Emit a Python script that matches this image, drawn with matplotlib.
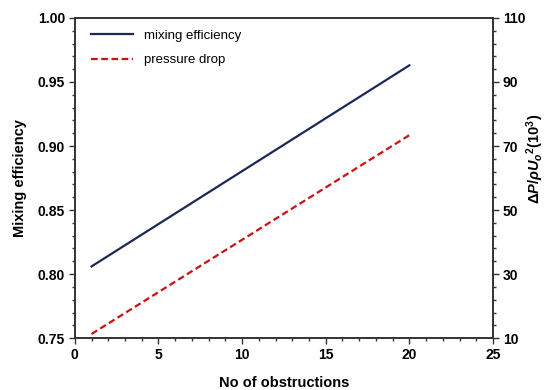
import matplotlib
matplotlib.use('Agg')
import matplotlib.pyplot as plt
from matplotlib.ticker import MultipleLocator

plt.rcParams['font.family'] = ['Liberation Sans', 'DejaVu Sans']
plt.rcParams['mathtext.fontset'] = 'custom'
plt.rcParams['mathtext.it'] = 'Liberation Sans:italic:bold'
plt.rcParams['mathtext.rm'] = 'Liberation Sans:bold'

# data
obstructions = [1, 20]
mixing_eff = [0.806, 0.963]
pressure_drop = [11.3, 73.4]

fig = plt.figure(figsize=(5.46, 3.90), dpi=100)
ax = fig.add_axes([0.137, 0.133, 0.766, 0.821])
ax2 = ax.twinx()

l1, = ax.plot(obstructions, mixing_eff, color='#1c2857', lw=1.6, label='mixing efficiency')
l2, = ax2.plot(obstructions, pressure_drop, color='#cc1111', lw=1.6, ls=(0, (3, 1.6)), label='pressure drop')

ax.set_xlim(0, 25)
ax.set_ylim(0.75, 1.00)
ax2.set_ylim(10, 110)

ax.xaxis.set_major_locator(MultipleLocator(5))
ax.xaxis.set_minor_locator(MultipleLocator(1))
ax.yaxis.set_major_locator(MultipleLocator(0.05))
ax.yaxis.set_minor_locator(MultipleLocator(0.01))
ax2.yaxis.set_major_locator(MultipleLocator(20, offset=10))
ax2.yaxis.set_minor_locator(MultipleLocator(4, offset=2))
ax.yaxis.set_major_formatter(plt.FormatStrFormatter('%.2f'))

for a in (ax, ax2):
    for s in a.spines.values():
        s.set_color('#333333')
        s.set_linewidth(1.2)
    a.tick_params(which='major', length=4, width=1, color='#333333', labelsize=10, pad=3)
    a.tick_params(which='minor', length=2, width=1, color='#333333')
    for lab in a.get_xticklabels() + a.get_yticklabels():
        lab.set_fontweight('bold')

ax.set_xlabel('No of obstructions', fontsize=10.5, fontweight='bold', labelpad=10)
ax.set_ylabel('Mixing efficiency', fontsize=10.5, fontweight='bold', labelpad=8)
ax2.set_ylabel(r'$\Delta P/\rho U_o{}^2\mathrm{(10^3)}$', fontsize=10.5)
ax2.yaxis.set_label_coords(1.075, 0.56)

ax.legend(handles=[l1, l2], loc='upper left', frameon=False, fontsize=9.5,
          handlelength=3.2, handletextpad=0.8, labelspacing=0.9,
          bbox_to_anchor=(0.01, 1.0))

fig.savefig('out.png', dpi=100)
